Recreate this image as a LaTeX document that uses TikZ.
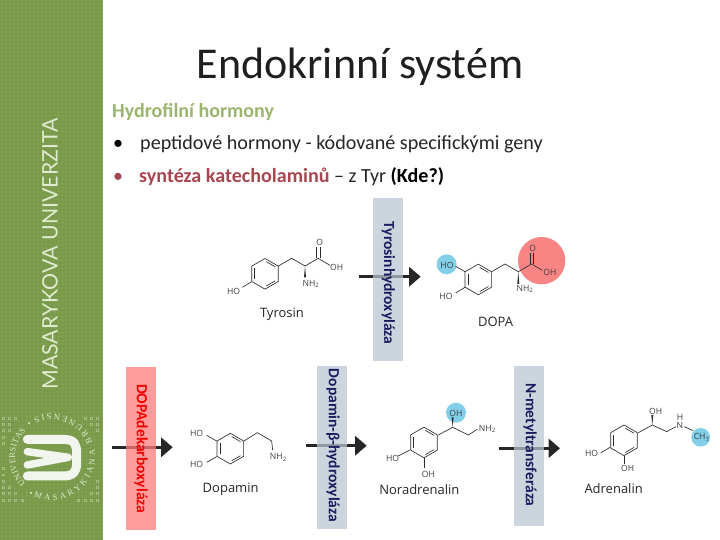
\documentclass[tikz,border=0pt]{standalone}
\usepackage{fontspec}
\setmainfont{Carlito}
\newfontfamily\chemfont{Open Sans}
\newfontfamily\sidefont{Lato}
\newfontfamily\sealfont{Liberation Serif}
\usetikzlibrary{arrows.meta,decorations.text}
\definecolor{sidegreen}{HTML}{7B9C4B}
\definecolor{sidelight}{HTML}{E0EAD0}
\definecolor{headgreen}{HTML}{9BB56F}
\definecolor{synred}{HTML}{A8474F}
\definecolor{enzbase}{HTML}{B9C5D1}
\definecolor{enzred}{HTML}{FF7C7C}
\definecolor{navy}{HTML}{1B1B60}
\definecolor{circred}{HTML}{F98484}
\definecolor{circblue}{HTML}{82CFE9}
\definecolor{bondcol}{HTML}{2B2B2B}
\definecolor{arrowcol}{HTML}{262626}
\tikzset{
  orig/.style 2 args={shift={(#1pt,-#2pt)},x=0.3333pt,y=-0.3333pt},
  bond/.style={draw=bondcol,line width=0.65pt},
  lab/.style={inner sep=0pt,text=black!75,font=\chemfont\fontsize{8.6}{9}\selectfont},
  molname/.style={inner sep=0pt,text=black!85,font=\chemfont\fontsize{13}{13}\selectfont},
  enzbox/.style={fill=enzbase,fill opacity=0.72,draw=none},
  enzboxred/.style={fill=enzred,fill opacity=0.75,draw=none},
  enzlabel/.style={rotate=-90,inner sep=0pt,font=\bfseries\fontsize{15.5}{15.5}\selectfont},
  reaction/.style={draw=arrowcol,line width=2.7pt,-{Triangle[length=11.5pt,width=19pt]}},
  textline/.style={anchor=base west,inner sep=0pt},
  sealtext/.style={decorate,decoration={text along path,text align=fit to path,
     text={|\sealfont\fontsize{8.6}{9}\selectfont\color{sidelight}|#1}}}
}
\newcommand{\benzring}[3]{%
  \draw[bond] (#1+#3*0.866,#2-#3*0.5)--(#1+#3*0.866,#2+#3*0.5)--(#1,#2+#3)--(#1-#3*0.866,#2+#3*0.5)--(#1-#3*0.866,#2-#3*0.5)--(#1,#2-#3)--cycle;
  \draw[bond] (#1+#3*0.09,#2-#3*0.79)--(#1+#3*0.66,#2-#3*0.46);
  \draw[bond] (#1+#3*0.66,#2+#3*0.46)--(#1+#3*0.09,#2+#3*0.79);
  \draw[bond] (#1-#3*0.68,#2+#3*0.36)--(#1-#3*0.68,#2-#3*0.36);
}
\newcommand{\wedgebond}[4]{\fill[bondcol] (#1,#2)--(#3-3,#4)--(#3+3,#4)--cycle;}
\begin{document}
\begin{tikzpicture}[x=1pt,y=-1pt]
\useasboundingbox (0,0) rectangle (720,540);
\fill[white] (0,0) rectangle (720,540);
% sidebar
\fill[sidegreen] (0,0) rectangle (103,540);
\foreach \i in {2,6,...,102}{\draw[white,opacity=0.05,line width=1pt] (\i,0)--(\i,540);}
\foreach \i in {2,6,...,538}{\draw[black,opacity=0.035,line width=1pt] (0,\i)--(103,\i);}
\node[rotate=90,inner sep=0pt,text=sidelight,font=\sidefont\fontsize{21.3}{22}\selectfont] (uni) at (50,254) {MASARYKOVA UNIVERZITA};
% seal dots
\foreach \x in {3,9.3,...,102}{
 \foreach \y in {418,424.3,...,500}{
  \pgfmathparse{(\x-52)*(\x-52)+(\y-457)*(\y-457)>2500?1:0}
  \ifnum\pgfmathresult=1
   \draw[sidelight,opacity=0.4,line width=0.5pt] (\x-0.9,\y-0.9) rectangle (\x+0.9,\y+0.9);
  \fi
 }}
% seal letters
\path[sealtext={MASARYKIANA BRUNENSIS}] (33.8,496) arc[start angle=115,end angle=-115,radius=43];
\path[sealtext={UNIVERSITAS}] (25.8,483.2) arc[start angle=135,end angle=225,radius=37];
\fill[sidelight] (31,493) circle (1.2);
\fill[sidelight] (29,423) circle (1.2);
% seal M
\begin{scope}[orig={0}{400}]
 \draw[white!90!sidegreen,line width=9pt,line cap=round,line join=round]
   (82,118)--(190,118) .. controls (225,118) and (230,135) .. (230,160)--(230,190) .. controls (230,215) and (220,228) .. (190,228)--(82,228);
 \draw[white!90!sidegreen,line width=7.5pt,line cap=round,line join=round] (82,155)--(205,172)--(82,195);
\end{scope}
% title and text
\node[inner sep=0pt,text=black!88,font=\fontsize{44}{44}\selectfont] (title) at (360,67) {Endokrinní systém};
\node[textline,text=headgreen,font=\bfseries\fontsize{20}{20}\selectfont] (sub) at (112,118) {Hydrofilní hormony};
\node[textline,font=\fontsize{20.1}{20.1}\selectfont] (b1) at (113,150) {•};
\node[textline,text=black!85,font=\fontsize{20.1}{20.1}\selectfont] (t1) at (140,150) {peptidové hormony - kódované specifickými geny};
\node[textline,text=synred,font=\fontsize{20.1}{20.1}\selectfont] (b2) at (113,183) {•};
\node[textline,font=\fontsize{20.1}{20.1}\selectfont] (t2) at (139,183) {\textcolor{synred}{\bfseries syntéza katecholaminů} \textcolor{black!85}{– z Tyr} \textbf{(Kde?)}};
% circles
\begin{scope}[orig={210}{190}]
 \fill[circred] (995,212) circle (71);
 \fill[circblue] (710,223) circle (30);
\end{scope}
\begin{scope}[orig={400}{360}]
 \fill[circblue] (168,158) circle (30);
 \fill[circblue] (902,232) circle (28);
\end{scope}
% reactions under the translucent boxes
\coordinate (a1s) at (359,276.7); \coordinate (a1e) at (420.7,276.7);
\coordinate (a2s) at (112,447.3); \coordinate (a2e) at (172.7,447.3);
\coordinate (a3s) at (305.7,445.7); \coordinate (a3e) at (366.7,445.7);
\coordinate (a4s) at (499.3,448.3); \coordinate (a4e) at (560,448.3);
\draw[reaction] (a1s)--(a1e);
\draw[reaction] (a2s)--(a2e);
\draw[reaction] (a3s)--(a3e);
\draw[reaction] (a4s)--(a4e);
\fill[enzbox] (373,198) rectangle (403.3,361);
\fill[enzboxred] (126,367.3) rectangle (156,530);
\fill[enzbox] (316.7,366) rectangle (346.7,529.3);
\fill[enzbox] (514,366) rectangle (544,525.7);
\node[enzlabel,text=navy] (e1) at (388.3,283) {Tyrosinhydroxyláza};
\node[enzlabel,text=red!95!black] (e2) at (141,448.7) {DOPAdekarboxyláza};
\node[enzlabel,text=navy] (e3) at (333,445.5) {Dopamin-β-hydroxyláza};
\node[enzlabel,text=navy] (e4) at (530,445) {N-metyltransferáza};
% Tyrosine
\begin{scope}[orig={210}{190}]
 \benzring{165}{251.5}{46}
 \draw[bond] (205,228)--(245,205)--(285,228)--(325,205)--(360,226);
 \draw[bond] (320,205)--(320,172) (330,205)--(330,172);
 \wedgebond{285}{228}{285}{262}
 \draw[bond] (125,275)--(97,292);
 \node[lab] (ty1) at (71,303) {HO};
 \node[lab] (ty2) at (380,231) {OH};
 \node[lab] (ty3) at (329,157) {O};
 \node[lab] (ty4) at (303,281) {NH\textsubscript{2}};
 \node[molname] (tyn) at (216,372) {Tyrosin};
 % DOPA
 \benzring{805}{268.5}{46}
 \draw[bond] (845,245)--(885,222)--(925,245)--(965,222)--(997,241);
 \draw[bond] (960,222)--(960,188) (970,222)--(970,188);
 \wedgebond{925}{245}{925}{282}
 \draw[bond] (765,245)--(737,229);
 \draw[bond] (765,292)--(737,309);
 \node[lab] (do1) at (711,225) {HO};
 \node[lab] (do2) at (708,318) {HO};
 \node[lab] (do3) at (1020,248) {OH};
 \node[lab] (do4) at (968,176) {O};
 \node[lab] (do5) at (945,297) {NH\textsubscript{2}};
 \node[molname] (don) at (857,397) {DOPA};
\end{scope}
% Dopamine
\begin{scope}[orig={120}{360}]
 \benzring{331}{266}{46}
 \draw[bond] (372,243)--(412,218)--(455,243)--(458,270);
 \draw[bond] (290,243)--(260,226);
 \draw[bond] (290,290)--(260,307);
 \node[lab] (dm1) at (230,220) {HO};
 \node[lab] (dm2) at (230,313) {HO};
 \node[lab] (dm3) at (475,292) {NH\textsubscript{2}};
 \node[molname] (dmn) at (332,387) {Dopamin};
\end{scope}
% Noradrenaline and adrenaline
\begin{scope}[orig={400}{360}]
 \benzring{72}{247.5}{46}
 \draw[bond] (115,225)--(158,202)--(205,225)--(232,208);
 \wedgebond{158}{202}{158}{172}
 \draw[bond] (72,293)--(72,325);
 \draw[bond] (30,270)--(-5,288);
 \node[lab] (na1) at (-22,295) {HO};
 \node[lab] (na2) at (168,160) {OH};
 \node[lab] (na3) at (262,207) {NH\textsubscript{2}};
 \node[lab] (na4) at (85,342) {OH};
 \node[molname] (nan) at (58,390) {Noradrenalin};
 \benzring{672}{241}{46}
 \draw[bond] (715,218)--(757,195)--(800,215)--(828,200);
 \draw[bond] (852,200)--(880,212);
 \wedgebond{757}{195}{757}{165}
 \draw[bond] (630,262)--(602,279);
 \draw[bond] (672,288)--(672,312);
 \node[lab] (ad1) at (575,280) {HO};
 \node[lab] (ad2) at (767,153) {OH};
 \node[lab] (ad3) at (840,172) {H};
 \node[lab] (ad4) at (840,197) {N};
 \node[lab] (ad5) at (905,232) {CH\textsubscript{3}};
 \node[lab] (ad6) at (683,325) {OH};
 \node[molname] (adn) at (641,385) {Adrenalin};
\end{scope}
\end{tikzpicture}
\end{document}
